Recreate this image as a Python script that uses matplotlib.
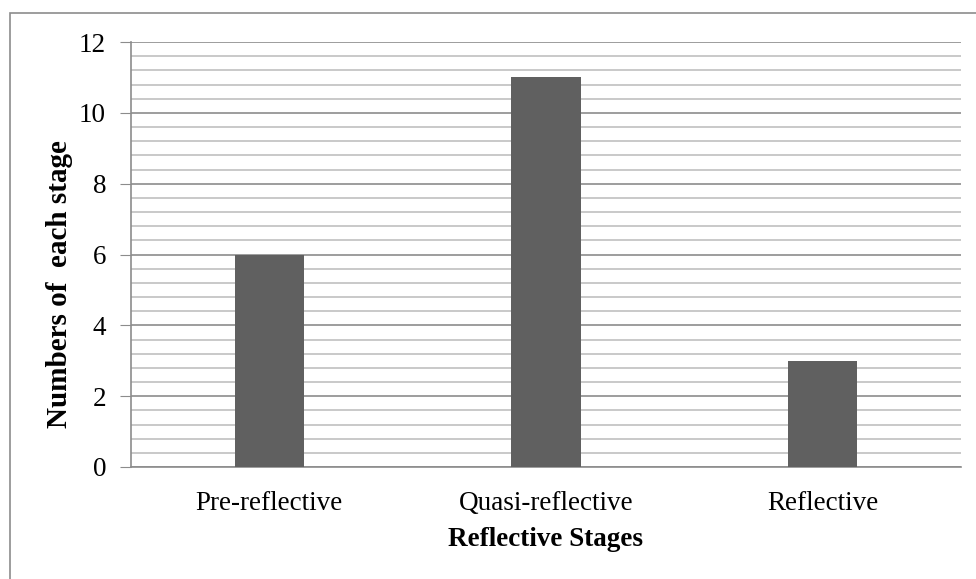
import matplotlib.pyplot as plt
from matplotlib.patches import Rectangle
from matplotlib.ticker import MultipleLocator

stages = ['Pre-reflective', 'Quasi-reflective', 'Reflective']
counts = [6, 11, 3]

plt.rcParams['font.family'] = ['Liberation Serif', 'DejaVu Serif']

W, H = 976, 579
fig = plt.figure(figsize=(W / 100, H / 100), dpi=100)
ax = fig.add_axes([131/W, 1-467/H, (961-131)/W, (467-42)/H])

# outer chart border (right/bottom edges fall outside the image)
fig.patches.append(Rectangle((10/W, -0.05), 1.1, 1.05 - 13/H, transform=fig.transFigure,
                             fill=False, edgecolor='#8c8c8c', linewidth=1.2))

x = range(len(stages))
ax.bar(x, counts, width=0.25, color='#606060', zorder=3)
ax.set_xlim(-0.5, 2.5)
ax.set_ylim(0, 12)
ax.yaxis.set_major_locator(MultipleLocator(2))
ax.yaxis.set_minor_locator(MultipleLocator(0.4))
ax.grid(axis='y', which='major', color='#8c8c8c', linewidth=1.2, zorder=0)
ax.grid(axis='y', which='minor', color='#c0c0c0', linewidth=1.2, zorder=0)
ax.set_axisbelow(True)

ax.set_xticks(list(x))
ax.set_xticklabels(stages, fontsize=19.5)
ax.tick_params(axis='x', length=0, pad=17)
ax.tick_params(axis='y', which='major', length=8, color='#8c8c8c', labelsize=19.5, pad=10)
ax.tick_params(axis='y', which='minor', length=0)

for s in ['top', 'right']:
    ax.spines[s].set_visible(False)
for s in ['left', 'bottom']:
    ax.spines[s].set_color('#8c8c8c')
    ax.spines[s].set_linewidth(1.2)

fig.text(546/W, 1-540/H, 'Reflective Stages', fontsize=19.5, fontweight='bold',
         ha='center', va='center')
fig.text(60/W, 1-284/H, 'Numbers of  each stage', fontsize=21, fontweight='bold',
         rotation=90, ha='center', va='center')

fig.savefig('out.png', dpi=100)
